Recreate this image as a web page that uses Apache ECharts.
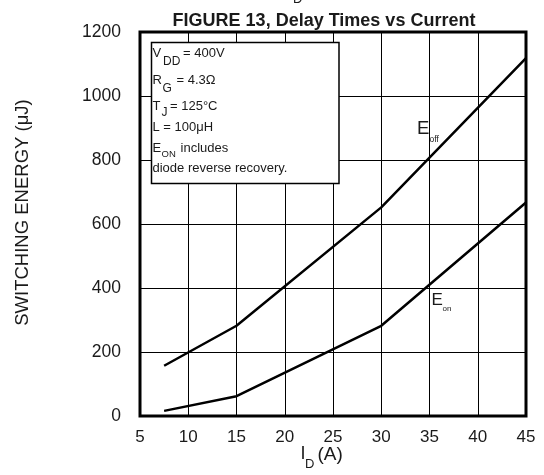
<!DOCTYPE html>
<html>
<head>
<meta charset="utf-8">
<script src="https://cdn.jsdelivr.net/npm/echarts@6/dist/echarts.min.js"></script>
<style>
  html, body { margin: 0; padding: 0; background: #fff; }
  #chart { width: 544px; height: 475px; }
</style>
</head>
<body>
<div id="chart"></div>
<script>
// Drain current I_D (A) at which the energies were measured
const currents = [7.5, 15, 30, 45];
// Turn-off and turn-on switching energy (µJ)
const eOff = [157, 282, 652, 1118];
const eOn = [16, 62, 282, 667];

const xTicks = { min: 5, max: 45, step: 5 };
const yTicks = { min: 0, max: 1200, step: 200 };

const FONT = '"Liberation Sans", Arial, Helvetica, sans-serif';
const INK = '#1a1a1a';

const chart = echarts.init(document.getElementById('chart'), null, { renderer: 'canvas' });

function pairs(xs, ys) {
  return xs.map((x, i) => [x, ys[i]]);
}

const option = {
  animation: false,
  backgroundColor: '#fff',
  title: {
    text: 'FIGURE 13, Delay Times vs Current',
    left: 319,
    top: 7,
    textAlign: 'center',
    textStyle: { fontFamily: FONT, fontSize: 18, fontWeight: 'bold', color: INK }
  },
  grid: {
    left: 140, right: 18, top: 32, bottom: 59,
    show: true, borderColor: '#000', borderWidth: 3, backgroundColor: '#fff'
  },
  xAxis: {
    type: 'value',
    min: xTicks.min, max: xTicks.max, interval: xTicks.step,
    axisLine: { show: false },
    axisTick: { show: false },
    axisLabel: { fontFamily: FONT, fontSize: 17, color: INK, margin: 13, formatter: v => String(v) },
    splitLine: { show: true, lineStyle: { color: '#000', width: 1 } }
  },
  yAxis: {
    type: 'value',
    min: yTicks.min, max: yTicks.max, interval: yTicks.step,
    axisLine: { show: false },
    axisTick: { show: false },
    axisLabel: { fontFamily: FONT, fontSize: 17.5, color: INK, margin: 19, formatter: v => String(v) },
    splitLine: { show: true, lineStyle: { color: '#000', width: 1 } }
  },
  series: [
    {
      name: 'Eoff', type: 'line', data: pairs(currents, eOff),
      symbol: 'none', lineStyle: { color: '#000', width: 2.5 }, z: 3
    },
    {
      name: 'Eon', type: 'line', data: pairs(currents, eOn),
      symbol: 'none', lineStyle: { color: '#000', width: 2.5 }, z: 3
    }
  ]
};
chart.setOption(option);

// Text helper for graphic elements (left edge, vertical middle)
function txt(x, y, s, size, extra) {
  return Object.assign({
    type: 'text', x: x, y: y, z: 20,
    style: {
      text: s, fontFamily: FONT, fontSize: size, fill: INK,
      textAlign: 'left', textVerticalAlign: 'middle'
    }
  }, extra || {});
}

// Curve labels placed from data coordinates
const offAt = chart.convertToPixel({ gridIndex: 0 }, [33.7, 896]);
const onAt = chart.convertToPixel({ gridIndex: 0 }, [35.2, 362]);

const graphics = [
  // Test-condition box
  {
    type: 'rect', z: 10,
    shape: { x: 151.5, y: 42.5, width: 187.5, height: 141 },
    style: { fill: '#fff', stroke: '#000', lineWidth: 1.5 }
  },
  txt(152.5, 53.3, 'V', 13), txt(163, 61.5, 'DD', 12), txt(183, 53.3, '= 400V', 13),
  txt(152.5, 80, 'R', 13), txt(162.5, 88.8, 'G', 12), txt(176.5, 80, '= 4.3Ω', 13),
  txt(152.5, 106, 'T', 13), txt(161.5, 112.5, 'J', 12), txt(170, 106, '= 125°C', 13),
  txt(152.5, 127.3, 'L = 100μH', 13),
  txt(152.5, 148.2, 'E', 13), txt(161.5, 154.5, 'ON', 9.5), txt(177, 148.2, ' includes', 13),
  txt(152.5, 168, 'diode reverse recovery.', 13),

  // Curve labels
  txt(offAt[0], offAt[1], 'E', 18.5), txt(offAt[0] + 12.5, offAt[1] + 10.5, 'off', 8.5),
  txt(onAt[0], onAt[1], 'E', 17), txt(onAt[0] + 11, onAt[1] + 9, 'on', 8),

  // Axis titles
  txt(22.5, 212.5, 'SWITCHING ENERGY (μJ)', 18.5, {
    rotation: Math.PI / 2,
    style: {
      text: 'SWITCHING ENERGY (μJ)', fontFamily: FONT, fontSize: 18.5, fill: INK,
      textAlign: 'center', textVerticalAlign: 'middle'
    }
  }),
  txt(300.5, 454.5, 'I', 18), txt(305, 464.5, 'D', 13), txt(317.5, 454.5, '(A)', 19),

  // Subscript left over from the figure above, cut at the page top
  txt(293, -1, 'D', 13)
];
chart.setOption({ graphic: graphics });
</script>
</body>
</html>
